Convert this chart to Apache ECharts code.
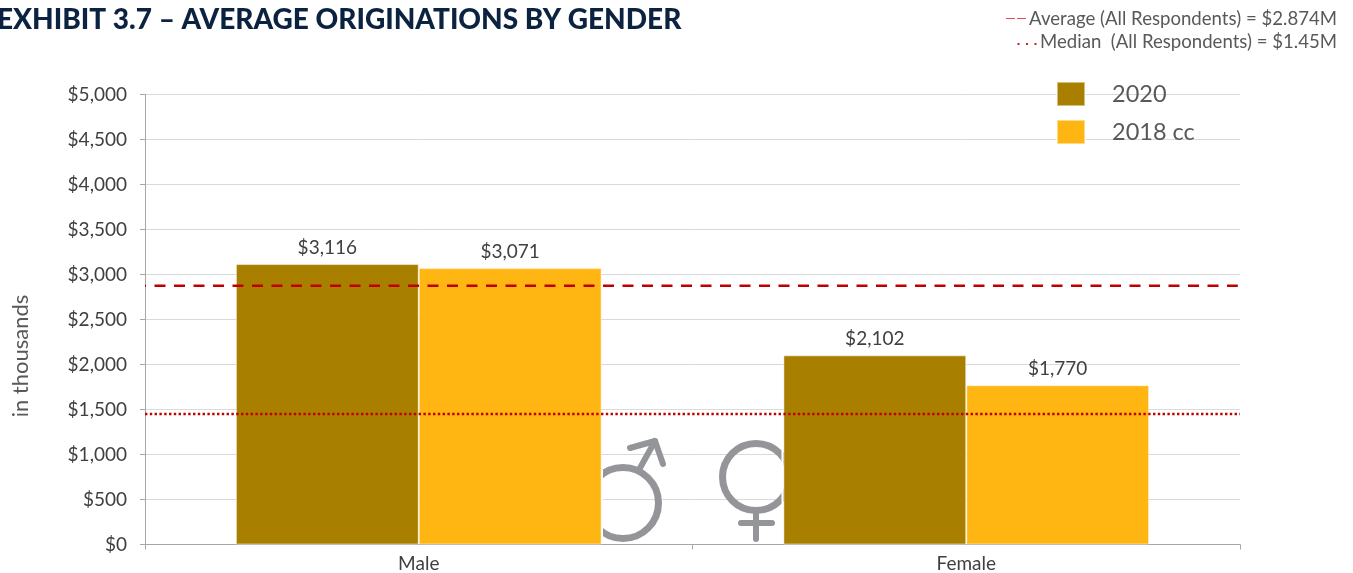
<!DOCTYPE html>
<html>
<head>
<meta charset="utf-8">
<style>
html, body { margin: 0; padding: 0; background: #fff; }
#chart { width: 1353px; height: 573px; }
</style>
<script src="https://cdn.jsdelivr.net/npm/echarts@6/dist/echarts.min.js"></script>
</head>
<body>
<div id="chart"></div>
<script>
const categories = ['Male', 'Female'];
const values2020 = [3116, 2102];
const values2018 = [3071, 1770];
const averageValue = 2874;
const medianValue = 1450;

const fontName = 'Lato';
const iconColor = '#939598';

const chart = echarts.init(document.getElementById('chart'));

function ring(cx, cy, r) {
    return { type: 'circle', z: 1, shape: { cx: cx, cy: cy, r: r }, style: { fill: 'none', stroke: iconColor, lineWidth: 7 } };
}

function stroke(points) {
    return { type: 'polyline', z: 1, shape: { points: points }, style: { fill: 'none', stroke: iconColor, lineWidth: 6, lineCap: 'round', lineJoin: 'round' } };
}

// 柱子旁边留一点白边
function whiteGap(x, y, height) {
    return { type: 'rect', z: 1, shape: { x: x, y: y, width: 2, height: height }, style: { fill: '#fff' } };
}

function moneyLabel(p) {
    return '$' + p.value.toLocaleString('en-US');
}

const option = {
    animation: false,
    textStyle: { fontFamily: fontName },
    grid: { left: 145, right: 113, top: 94.5, bottom: 28.5, outerBoundsMode: 'none' },
    legend: {
        orient: 'vertical',
        left: 1056,
        top: 81,
        padding: 0,
        icon: 'rect',
        itemWidth: 28,
        itemHeight: 24,
        itemGap: 12,
        data: ['2020', '2018 cc'],
        textStyle: { fontSize: 23.5, lineHeight: 24, color: '#58595b', padding: [0, 0, 0, 22] }
    },
    xAxis: [
        {
            type: 'category',
            data: categories,
            axisTick: { show: true, length: 5, lineStyle: { color: '#a6a6a6' } },
            axisLine: { lineStyle: { color: '#a6a6a6' } },
            axisLabel: { fontSize: 19, color: '#404041', margin: 10 }
        },
        { type: 'value', min: 0, max: 1, show: false }
    ],
    yAxis: {
        type: 'value',
        min: 0,
        max: 5000,
        interval: 500,
        axisLine: { show: true, lineStyle: { color: '#a6a6a6' } },
        axisTick: { show: true, length: 5, lineStyle: { color: '#a6a6a6' } },
        axisLabel: { fontSize: 19, color: '#404041', margin: 18, formatter: v => '$' + v.toLocaleString('en-US') },
        splitLine: { lineStyle: { color: '#d9d9d9' } }
    },
    series: [
        {
            name: '2020',
            type: 'bar',
            data: values2020,
            barWidth: '33.4%',
            barGap: 0,
            itemStyle: { color: '#a97f00', borderColor: 'rgba(255,255,255,0.5)', borderWidth: 1 },
            label: { show: true, position: 'top', distance: 7, fontSize: 19, color: '#404041', formatter: moneyLabel }
        },
        {
            name: '2018 cc',
            type: 'bar',
            data: values2018,
            barWidth: '33.4%',
            itemStyle: { color: '#ffb612', borderColor: 'rgba(255,255,255,0.5)', borderWidth: 1 },
            label: { show: true, position: 'top', distance: 7, fontSize: 19, color: '#404041', formatter: moneyLabel }
        },
        {
            type: 'line',
            xAxisIndex: 1,
            data: [[0, averageValue], [0.998, averageValue]],
            symbol: 'none',
            z: 5,
            lineStyle: { color: '#c00000', width: 2.5, type: [11, 8.5], dashOffset: 10 }
        },
        {
            type: 'line',
            xAxisIndex: 1,
            data: [[0, medianValue], [1, medianValue]],
            symbol: 'none',
            z: 5,
            lineStyle: { color: '#c00000', width: 2.5, type: [2.4, 2.4] }
        }
    ],
    graphic: [
        { type: 'text', z: 6, left: -3, top: 6, style: { text: 'EXHIBIT 3.7 – AVERAGE ORIGINATIONS BY GENDER', font: '900 28px ' + fontName, fill: '#0b2240' } },
        { type: 'text', z: 6, right: 16, top: 9, style: { text: 'Average (All Respondents) = $2.874M', font: '18.6px ' + fontName, fill: '#58595b' } },
        { type: 'text', z: 6, right: 16, top: 32, style: { text: 'Median  (All Respondents) = $1.45M', font: '18.6px ' + fontName, fill: '#58595b' } },
        { type: 'line', z: 6, shape: { x1: 1006, y1: 18.5, x2: 1026, y2: 18.5 }, style: { stroke: '#d9534f', lineWidth: 1.2, lineDash: [9, 2] } },
        { type: 'line', z: 6, shape: { x1: 1017.5, y1: 44, x2: 1037, y2: 44 }, style: { stroke: '#c8202f', lineWidth: 2, lineDash: [2, 6.5] } },
        { type: 'text', z: 6, x: 21, y: 356, rotation: Math.PI / 2, style: { text: 'in thousands', font: '22px ' + fontName, fill: '#58595b', align: 'center', verticalAlign: 'middle' } },
        ring(623, 503, 35.5),
        stroke([[640, 468], [655, 441]]),
        stroke([[630, 448], [655, 441], [663, 464]]),
        ring(756, 477, 33.5),
        stroke([[756, 513], [756, 539]]),
        stroke([[741, 523], [772, 523]]),
        whiteGap(601, 470, 70),
        whiteGap(781.5, 445, 65)
    ]
};

chart.setOption(option);
window.addEventListener('resize', () => chart.resize());
</script>
</body>
</html>
